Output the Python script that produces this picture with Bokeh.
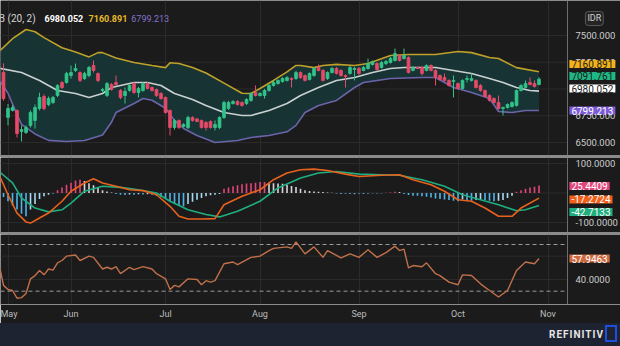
from bokeh.plotting import figure
from bokeh.models import ColumnDataSource, FixedTicker, Label, Range1d, Span, Div
from bokeh.layouts import column
from bokeh.core.properties import value
from bokeh.embed import file_html
from bokeh.resources import INLINE

# ---------------- data ----------------
opens = [7154, 6734, 6800, 6799, 6603, 6593, 6659, 6706, 6818, 6930,
         6855, 6874, 6939, 7061, 7061, 7126, 7173, 7154, 7098, 7126,
         7220, 7145, 6986, 6939, 7042, 7061, 6986, 6939, 6986, 7051,
         6967, 6986, 7051, 7014, 6995, 6958, 6921, 6799, 6640, 6706,
         6650, 6640, 6734, 6720, 6706, 6687, 6696, 6640, 6640, 6734,
         6818, 6864, 6883, 6874, 6864, 6893, 6967, 6939, 6939, 6986,
         7033, 7051, 7070, 7080, 7098, 7098, 7154, 7126, 7089, 7126,
         7201, 7173, 7098, 7154, 7192, 7173, 7126, 7145, 7182, 7192,
         7173, 7192, 7229, 7238, 7201, 7238, 7248, 7266, 7313, 7285,
         7294, 7173, 7201, 7201, 7173, 7220, 7173, 7126, 7107, 7080,
         7070, 7051, 7005, 7089, 7080, 7080, 7033, 6986, 6939, 6911,
         6874, 6818, 6827, 6836, 6846, 6986, 7014, 7061, 7051, 7042]
closes = [6911, 6818, 6827, 6584, 6621, 6640, 6780, 6827, 6921, 6818,
          6911, 6921, 7033, 7014, 7145, 7154, 7192, 7080, 7145, 7201,
          7173, 7080, 6995, 7051, 6995, 7042, 6921, 6977, 7033, 6967,
          7005, 7051, 7005, 6986, 6939, 6911, 6780, 6640, 6706, 6640,
          6668, 6734, 6706, 6697, 6640, 6640, 6640, 6668, 6734, 6874,
          6874, 6883, 6855, 6846, 6902, 6958, 6939, 6958, 6986, 7033,
          7061, 7080, 7098, 7107, 7089, 7154, 7107, 7080, 7145, 7192,
          7173, 7080, 7154, 7192, 7145, 7126, 7117, 7201, 7192, 7145,
          7201, 7238, 7257, 7182, 7248, 7257, 7285, 7332, 7266, 7313,
          7154, 7201, 7192, 7145, 7220, 7173, 7107, 7089, 7080, 7033,
          7080, 7005, 7080, 7098, 7098, 7014, 6986, 6930, 6893, 6874,
          6818, 6827, 6855, 6874, 6986, 7033, 7051, 7042, 7023, 7091.761]
highs = [7240, 6860, 6850, 6810, 6660, 6660, 6800, 6855, 6965, 6950,
         6930, 6935, 7045, 7075, 7160, 7220, 7238, 7165, 7160, 7215,
         7266, 7155, 7010, 7065, 7055, 7126, 7000, 7014, 7045, 7065,
         7020, 7065, 7065, 7025, 7005, 6970, 6930, 6810, 6720, 6715,
         6680, 6750, 6745, 6730, 6715, 6700, 6706, 6706, 6745, 6890,
         6890, 6895, 6895, 6885, 6915, 6970, 7033, 6970, 7000, 7045,
         7075, 7090, 7110, 7120, 7110, 7170, 7165, 7135, 7155, 7205,
         7229, 7185, 7165, 7205, 7205, 7185, 7135, 7215, 7205, 7205,
         7215, 7285, 7266, 7250, 7260, 7270, 7300, 7378, 7325, 7378,
         7305, 7215, 7210, 7210, 7230, 7230, 7185, 7135, 7145, 7090,
         7126, 7060, 7090, 7126, 7145, 7090, 7045, 6995, 6950, 6921,
         6939, 6836, 6865, 6885, 6995, 7045, 7080, 7107, 7080, 7110]
lows = [6890, 6660, 6790, 6547, 6510, 6580, 6640, 6630, 6800, 6800,
        6840, 6860, 6925, 7000, 7050, 7098, 7160, 7065, 7085, 7110,
        7154, 7065, 6970, 6925, 6985, 7030, 6905, 6864, 6975, 6955,
        6921, 6975, 6995, 6975, 6925, 6900, 6770, 6565, 6620, 6625,
        6640, 6625, 6695, 6690, 6630, 6612, 6630, 6612, 6625, 6720,
        6805, 6855, 6845, 6835, 6850, 6880, 6930, 6930, 6911, 6975,
        7023, 7042, 7060, 7070, 7014, 7085, 7095, 7070, 7080, 7115,
        7165, 7070, 7085, 7145, 7135, 7115, 7014, 7135, 7080, 7135,
        7165, 7182, 7220, 7170, 7190, 7225, 7238, 7257, 7257, 7275,
        7145, 7165, 7185, 7126, 7165, 7165, 7033, 7080, 7070, 7023,
        6921, 6995, 6995, 7061, 7070, 7005, 6975, 6921, 6883, 6864,
        6808, 6752, 6818, 6827, 6836, 6977, 7005, 7033, 7014, 7033]

upper_x = [-1, 2, 5, 7, 9, 13, 16, 19, 21, 22, 25, 29, 33, 36, 37, 39, 42, 45, 49, 53,
           55, 57, 60, 63, 65, 66, 69, 71, 74, 78, 81, 86, 90, 96, 101, 104, 108, 110, 114, 119]
upper_v = [7350, 7470, 7556, 7535, 7480, 7385, 7345, 7300, 7340, 7340, 7290, 7248, 7220, 7200,
           7245, 7238, 7200, 7150, 7055, 6960, 6958, 7005, 7080, 7160, 7220, 7220, 7200, 7220,
           7230, 7220, 7238, 7313, 7322, 7322, 7350, 7340, 7295, 7285, 7200, 7160.891]
middle_x = [-1, 4, 8, 12, 16, 19, 22, 24, 29, 32, 35, 38, 42, 45, 49, 53, 55, 59, 63, 66,
            70, 74, 78, 82, 86, 89, 93, 96, 100, 104, 108, 111, 114, 117, 119]
middle_v = [7195, 7154, 7080, 6986, 6958, 6921, 6958, 7014, 7061, 7061, 7033, 6958, 6902, 6846,
            6780, 6752, 6752, 6799, 6864, 6939, 7014, 7080, 7107, 7154, 7192, 7201, 7201, 7201,
            7173, 7145, 7098, 7061, 7014, 6986, 6980.052]
lower_x = [-1, 1, 3, 4, 7, 10, 14, 18, 22, 24, 25, 29, 31, 33, 36, 38, 40, 43, 47, 52,
           55, 59, 63, 65, 67, 70, 74, 78, 80, 83, 86, 93, 96, 100, 104, 108, 110, 113, 116, 119]
lower_v = [7090, 6960, 6760, 6670, 6580, 6520, 6509, 6519, 6570, 6690, 6780, 6864, 6911, 6895,
           6820, 6706, 6631, 6565, 6500, 6519, 6547, 6565, 6600, 6660, 6780, 6846, 6893, 7014,
           7061, 7080, 7098, 7107, 7107, 7014, 6967, 6911, 6790, 6780, 6799, 6799.213]

hist = [-14, -28, -42, -56, -70, -79, -56, -37, -20, -11,
        -6, -2, 9, 19, 28, 35, 42, 45, 41, 33,
        26, 17, 9, 5, 2, -3, -6, -7, -5, -6,
        -4, -5, -4, -6, -9, -14, -20, -28, -35, -41,
        -45, -37, -30, -23, -17, -11, -8, -6, -3, 14,
        19, 23, 26, 30, 32, 33, 35, 37, 37, 35,
        33, 32, 31, 28, 24, 20, 14, 9, 7, 5,
        4, 3, 2, 1, -2, -3, -2, -3, -4, -2,
        -3, -2, -1, -2, -1, 1, 2, 4, 3, -3,
        -7, -9, -9, -11, -13, -15, -19, -20, -22, -24,
        -26, -28, -22, -24, -26, -24, -22, -24, -26, -28,
        -26, -24, -17, -9, 4, 9, 14, 19, 21, 25.4409]
macd_x = [-1, 1, 3, 5, 6, 8, 10, 13, 15, 18, 20, 22, 25, 28, 31, 34, 37, 39, 41, 44,
          47, 49, 53, 57, 60, 63, 66, 69, 72, 76, 79, 84, 88, 91, 95, 98, 101, 104, 107, 110,
          113, 115, 119]
macd_v = [62, -6, -68, -98, -102, -85, -68, -28, 6, 34, 48, 34, 23, 11, 8, -6, -45, -79, -88, -88,
          -87, -40, -11, 11, 45, 68, 79, 81, 76, 64, 56, 60, 62, 45, 28, 6, -23, -28, -51, -79,
          -79, -51, -17.2724]
sig_x = [-1, 2, 4, 7, 10, 13, 15, 18, 22, 26, 30, 34, 37, 41, 45, 48, 52, 57, 61, 66,
         70, 74, 79, 84, 88, 93, 98, 102, 106, 110, 114, 116, 119]
sig_v = [73, 34, -17, -51, -64, -57, -34, 6, 23, 19, 11, 0, -28, -57, -73, -81, -62, -28, 17, 51,
         68, 73, 64, 62, 60, 45, 23, -6, -23, -40, -60, -57, -42.7133]

rsi_x = [-1, 0, 1, 2, 3, 4, 5, 6, 7, 8, 9, 10, 11, 12, 13, 14, 16, 17, 19, 20, 22, 23, 24, 25, 26,
         28, 29, 31, 33, 34, 36, 37, 38, 39, 41, 43, 44, 45, 46, 47, 49, 51, 52, 55, 57, 59,
         60, 63, 64, 65, 67, 69, 71, 72, 75, 77, 79, 81, 83, 85, 87, 88, 89, 90, 91, 93,
         94, 96, 97, 99, 101, 102, 104, 106, 108, 110, 111, 112, 114, 116, 118, 119]
rsi_v = [53.5, 35, 31.5, 30.6, 24, 24.5, 28, 40.6, 43.4, 47.7, 44, 49, 48, 54.3, 56.3, 60,
         61, 56.3, 60, 59, 49, 50.5, 49, 51, 45, 50.5,
         48.5, 51, 49, 45, 40.6, 31.5, 35, 33.7, 40.6, 40,
         35.5, 39, 37.8, 39, 53.5, 55, 52.8, 59, 60, 64.8,
         66.7, 68, 66.7, 72.3, 62, 68, 59, 64.8, 58.6, 62,
         59, 65.5, 59, 63, 68.6, 64.8, 66, 50, 52, 51,
         54.3, 45, 43.4, 37.8, 35.5, 44, 43.4, 36.3, 30.6, 25,
         27.8, 30.6, 47.7, 55, 53.5, 57.9463]

month_pos = [1, 15, 36, 57, 79, 101, 121]
month_names = ["May", "Jun", "Jul", "Aug", "Sep", "Oct", "Nov"]

price_ticks = [6500, 6750, 7000, 7250, 7500]
macd_ticks = [-100, 100]
macd_grid = [-100, 0, 100]
rsi_ticks = [40]
rsi_grid = [40, 60]
rsi_levels = [70, 30]
bb_legend = ["BB (20, 2)", "6980.052", "7160.891", "6799.213"]
price_tags = [("7160.891", 7234.0, "#f2b21b", "#1a1a1a"),
              ("7091.761", 7121.5, "#1fb884", "#1a1a1a"),
              ("6980.052", 7004.0, "#ffffff", "#1a1a1a"),
              ("6799.213", 6799.0, "#7b5bd6", "#ffffff")]
macd_tags = [("25.4409", 23.7, "#e0457b"), ("-17.2724", -22.0, "#f0601a"), ("-42.7133", -64.4, "#1fae7d")]
rsi_tag = ("57.9463", 57.95, "#cf6a40")

# ---------------- style ----------------
BG = "#1b1b1b"
GRID = "#2b2b2b"
AXIS_TXT = "#cdcdcd"
FONT = "Roboto"
GREEN = "#32c48a"
RED = "#e84a69"
X0, X_CHART_END, X_END = -0.67, 125.33, 137.11   # chart part ends at the right-axis divider
X_TICKLBL = 127.1
X_TAG = 125.75

x_range = Range1d(X0, X_END)


def make_fig(height, y0, y1, bottom=0):
    p = figure(width=620, height=height, output_backend="svg", toolbar_location=None,
               x_range=x_range, y_range=Range1d(y0, y1),
               x_axis_location="below" if bottom else None, y_axis_location=None,
               min_border_left=0, min_border_right=0, min_border_top=0, min_border_bottom=bottom,
               background_fill_color=BG, border_fill_color=BG, outline_line_color=None)
    p.xgrid.ticker = FixedTicker(ticks=month_pos)
    p.xgrid.grid_line_color = GRID
    p.ygrid.grid_line_color = None
    return p


def y_axis(p, grid_ticks, label_ticks, fmt):
    n = len(grid_ticks)
    p.segment(x0=[X0] * n, x1=[X_CHART_END] * n, y0=grid_ticks, y1=grid_ticks,
              line_color=GRID, line_width=1)
    p.add_layout(Span(location=X_CHART_END, dimension="height", line_color="#6f6f6f", line_width=1))
    m = len(label_ticks)
    p.text(x=[X_TICKLBL] * m, y=label_ticks, text=[fmt.format(t) for t in label_ticks],
           text_align="left", text_baseline="middle", text_color=AXIS_TXT,
           text_font=value(FONT), text_font_size="9.5px")


def tag(p, y, text, bg, fg, size="10px"):
    p.add_layout(Label(x=X_TAG, y=y, text=text, text_align="left", text_baseline="middle",
                       text_font=FONT, text_font_size=size, text_color=fg,
                       background_fill_color=bg, padding=dict(x=2, y=0)))

# ---------------- price panel ----------------
p1 = make_fig(155, 6378.5, 7827.1)
y_axis(p1, price_ticks, price_ticks, "{:.3f}")

p1.patch(upper_x + lower_x[::-1], upper_v + lower_v[::-1], fill_color="#173333", line_color=None)
p1.line(upper_x, upper_v, line_color="#bfa12a", line_width=1.6)
p1.line(middle_x, middle_v, line_color="#c9d0d0", line_width=1.6)
p1.line(lower_x, lower_v, line_color="#6b64aa", line_width=1.6)

idx = list(range(len(closes)))
colors = [GREEN if c >= o else RED for o, c in zip(opens, closes)]
src = ColumnDataSource(dict(x=idx, h=highs, l=lows, color=colors,
                            top=[max(o, c) for o, c in zip(opens, closes)],
                            bot=[min(o, c) for o, c in zip(opens, closes)]))
p1.segment(x0="x", y0="h", x1="x", y1="l", line_color="color", line_width=1, source=src)
p1.vbar(x="x", width=0.62, top="top", bottom="bot", fill_color="color", line_color="color",
        line_width=0.8, source=src)

leg_x = [-2.44, 9.1, 18.9, 28.4]
leg_col = ["#d4d4d4", "#ffffff", "#e5b72a", "#8472cc"]
leg_style = ["normal", "bold", "bold", "normal"]
leg_size = ["10px", "9px", "9px", "9px"]
for t, lx, lc, ls, fs in zip(bb_legend, leg_x, leg_col, leg_style, leg_size):
    p1.add_layout(Label(x=lx, y=7659, text=t, text_align="left", text_baseline="middle",
                        text_font=FONT, text_font_size=fs, text_color=lc, text_font_style=ls))

p1.add_layout(Label(x=131.3, y=7659, text="IDR", text_align="center", text_baseline="middle",
                    text_font=FONT, text_font_size="9px", text_color="#d0d0d0",
                    background_fill_color="#242424", border_line_color="#5a5a5a",
                    padding=2, border_radius=3))
for t, ty, bg, fg in price_tags:
    tag(p1, ty, t, bg, fg)

# ---------------- MACD panel ----------------
p2 = make_fig(75, -133.9, 120.3)
y_axis(p2, macd_grid, macd_ticks, "{:.4f}")

hcol = []
for i, v in enumerate(hist):
    prev = hist[i - 1] if i > 0 else v
    if v >= 0:
        hcol.append("#e0457b" if v >= prev else "#d8d2d8")
    else:
        hcol.append("#4fb3e8" if v <= prev else "#a6d8f0")
p2.vbar(x=idx, top=hist, bottom=0, width=0.36, fill_color=hcol, line_color=None)
p2.line(sig_x, sig_v, line_color="#1fae80", line_width=1.6)
p2.line(macd_x, macd_v, line_color="#e8621e", line_width=1.6)
for t, ty, bg in macd_tags:
    tag(p2, ty, t, bg, "#ffffff")

# ---------------- RSI panel ----------------
p3 = make_fig(89, 18.61, 78.57, bottom=19)
y_axis(p3, rsi_grid, rsi_ticks, "{:.4f}")
nl = len(rsi_levels)
p3.segment(x0=[X0] * nl, x1=[X_CHART_END] * nl, y0=rsi_levels, y1=rsi_levels,
           line_color="#9a9a9a", line_dash="4 3", line_width=1)
p3.line(rsi_x, rsi_v, line_color="#c0704a", line_width=1.4)
tag(p3, rsi_tag[1], rsi_tag[0], rsi_tag[2], "#ffffff")

p3.xaxis.ticker = FixedTicker(ticks=month_pos)
p3.xaxis.major_label_overrides = dict(zip(month_pos, month_names))
p3.xaxis.axis_line_color = "#8c8c8c"
p3.xaxis.major_tick_line_color = None
p3.xaxis.minor_tick_line_color = None
p3.xaxis.major_tick_out = 0
p3.xaxis.major_tick_in = 0
p3.xaxis.major_label_standoff = 4
p3.xaxis.major_label_text_color = "#bdbdbd"
p3.xaxis.major_label_text_font = FONT
p3.xaxis.major_label_text_font_size = "9px"


def sep():
    return Div(text="", width=620, height=2, margin=(0, 0, 0, 0),
               styles={"background-color": "#8a8a8a"})


footer = Div(
    text=('<div style="position:relative;width:620px;height:23px;background:#1e2332;overflow:hidden;">'
          '<span style="position:absolute;left:549px;top:5px;font-family:Roboto;font-weight:bold;'
          'font-size:10px;letter-spacing:1px;color:#e6e6e6;line-height:13px;">REFINITIV</span>'
          '<span style="position:absolute;left:605px;top:2px;width:12px;height:17px;'
          'border:2px solid #1f4fe0;"></span></div>'),
    width=620, height=23, margin=(0, 0, 0, 0))

layout = column(p1, sep(), p2, sep(), p3, footer, spacing=0)

open("out.html", "w").write(file_html(layout, INLINE))
